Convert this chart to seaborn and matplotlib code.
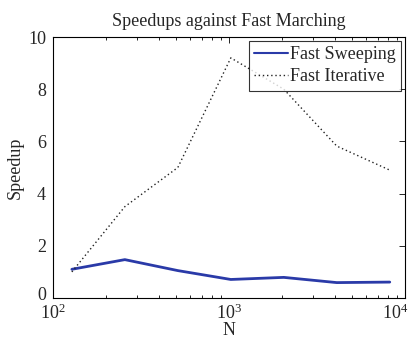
import matplotlib
matplotlib.use("Agg")
import matplotlib.pyplot as plt
import matplotlib.transforms as mtrans
import seaborn as sns
import pandas as pd

N = [128, 256, 512, 1024, 2048, 4096, 8192]
fast_sweeping = [1.10, 1.47, 1.05, 0.71, 0.79, 0.59, 0.61]
fast_iterative = [1.00, 3.50, 5.00, 9.20, 8.00, 5.82, 4.90]
series_names = ["Fast Sweeping", "Fast Iterative"]

df = pd.DataFrame({
    "N": N * 2,
    "Speedup": fast_sweeping + fast_iterative,
    "method": [series_names[0]] * len(N) + [series_names[1]] * len(N),
})

sns.set_theme(style="white")
plt.rcParams["font.family"] = ["Liberation Serif", "DejaVu Serif"]
plt.rcParams["mathtext.fontset"] = "custom"
plt.rcParams["mathtext.rm"] = "Liberation Serif"
plt.rcParams["mathtext.default"] = "rm"

fig = plt.figure(figsize=(4.14, 3.40), dpi=100)
ax = fig.add_axes([53 / 414, 1 - 298 / 340, (405 - 53) / 414, (298 - 37) / 340])

sns.lineplot(data=df, x="N", y="Speedup", hue="method", style="method",
             palette={series_names[0]: "#2a3aa8", series_names[1]: "#222222"},
             dashes={series_names[0]: "", series_names[1]: (1, 2)},
             ax=ax, legend=True)
for line, lw in zip(ax.lines, [2.0, 1.0]):
    line.set_linewidth(lw)

ax.set_xscale("log")
ax.set_xlim(100, 10000)
ax.set_ylim(0, 10)
ax.set_yticks([0, 2, 4, 6, 8, 10])
ax.set_xticks([100, 1000, 10000])
ax.set_xticklabels([r"$10^2$", r"$10^3$", r"$10^4$"])
ax.tick_params(which="both", direction="in", top=True, right=True, labelsize=13, color="black")
ax.tick_params(axis="x", which="major", pad=4, labelsize=13)
ax.tick_params(axis="y", which="major", pad=5)
ax.tick_params(which="major", length=4, width=0.6)
ax.tick_params(which="minor", length=2, width=0.6, bottom=True, top=True)
for s in ax.spines.values():
    s.set_color("black")
    s.set_linewidth(0.8)

# keep the last x tick label inside the figure
last = ax.get_xticklabels()[-1]
last.set_transform(last.get_transform() + mtrans.ScaledTranslation(-0.1, 0, fig.dpi_scale_trans))
# lift the "0" label slightly so it does not touch 10^2
first_y = ax.get_yticklabels()[0]
first_y.set_transform(first_y.get_transform() + mtrans.ScaledTranslation(0, 0.04, fig.dpi_scale_trans))

ax.set_xlabel("N", fontsize=13, labelpad=-1)
ax.set_ylabel("Speedup", fontsize=13, labelpad=3)
ax.set_title("Speedups against Fast Marching", fontsize=13, pad=8)

handles, labels = ax.get_legend_handles_labels()
leg = ax.legend(handles, labels, loc="upper right", fontsize=13, frameon=True,
                fancybox=False, edgecolor="black", borderaxespad=0.2,
                handlelength=1.9, handletextpad=0.1, borderpad=0.3, labelspacing=0.3)
leg.get_frame().set_linewidth(0.8)
for h, lw in zip(leg.get_lines(), [1.5, 1.0]):
    h.set_linewidth(lw)

fig.savefig("out.png", dpi=100, facecolor="white")
